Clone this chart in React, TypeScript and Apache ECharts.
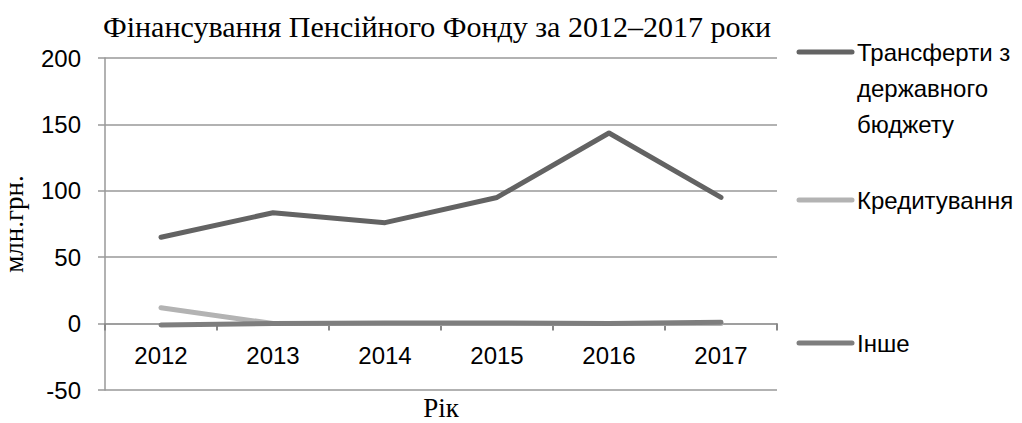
import React, { useEffect, useRef } from "react";
import * as echarts from "echarts";

const years = ["2012", "2013", "2014", "2015", "2016", "2017"];
const transfers = [65, 83.5, 76, 95, 143.5, 95];
const credit = [12, 0, 0, 0, 0, 0];
const other = [-1, 0, 0.5, 0.5, 0, 1];
const seriesNames = ["Трансферти з державного бюджету", "Кредитування", "Інше"];
const legendLabels = ["Трансферти з\nдержавного\nбюджету", "Кредитування", "Інше"];
const colors = ["#636363", "#b3b3b3", "#7e7e7e"];

const Y_MIN = -50;
const Y_MAX = 200;
const GRID_TOP = 58;
const GRID_BOTTOM = 33;
const CHART_H = 423;

export default function App() {
  const ref = useRef<HTMLDivElement>(null);
  useEffect(() => {
    const chart = echarts.init(ref.current!, null, { renderer: "svg" });
    const plotH = CHART_H - GRID_TOP - GRID_BOTTOM;
    const zeroOffset = -((0 - Y_MIN) / (Y_MAX - Y_MIN)) * plotH;
    const legendY = [52, 200, 343];
    const graphics: any[] = [];
    legendLabels.forEach((lab, i) => {
      graphics.push({
        type: "line",
        shape: { x1: 799, y1: legendY[i], x2: 852, y2: legendY[i] },
        style: { stroke: colors[i], lineWidth: 5, lineCap: "round" },
      });
      graphics.push({
        type: "text",
        x: 857,
        y: legendY[i] - 18,
        style: {
          text: lab,
          font: '24px "Liberation Sans", Arial, sans-serif',
          fill: "#000",
          lineHeight: 36,
          textVerticalAlign: "top",
        },
      });
    });
    chart.setOption({
      animation: false,
      backgroundColor: "#fff",
      title: {
        text: "Фінансування Пенсійного Фонду за 2012–2017 роки",
        left: 98,
        top: 6,
        textStyle: {
          fontFamily: '"Liberation Serif", "Times New Roman", serif',
          fontSize: 30,
          fontWeight: "normal",
          color: "#000",
        },
      },
      grid: {
        left: 105,
        right: 245,
        top: GRID_TOP,
        bottom: GRID_BOTTOM,
        containLabel: false,
        outerBoundsMode: "none",
      },
      xAxis: {
        type: "category",
        data: years,
        boundaryGap: true,
        offset: zeroOffset,
        name: "Рік",
        nameLocation: "middle",
        nameGap: 71,
        nameTextStyle: {
          fontFamily: '"Liberation Serif", serif',
          fontSize: 27,
          color: "#000",
        },
        axisLine: { show: true, onZero: false, lineStyle: { color: "#999", width: 1.5 } },
        axisTick: { show: true, length: 7, lineStyle: { color: "#888", width: 2 } },
        axisLabel: {
          fontFamily: '"Liberation Sans", Arial, sans-serif',
          fontSize: 24,
          color: "#000",
          margin: 20,
        },
      },
      yAxis: {
        type: "value",
        min: Y_MIN,
        max: Y_MAX,
        interval: 50,
        name: "млн.грн.",
        nameLocation: "middle",
        nameGap: 78,
        nameTextStyle: {
          fontFamily: '"Liberation Serif", serif',
          fontSize: 27,
          color: "#000",
        },
        axisLine: { show: true, lineStyle: { color: "#999", width: 1.5 } },
        axisTick: { show: true, length: 7, lineStyle: { color: "#999", width: 1.5 } },
        splitLine: { show: true, lineStyle: { color: "#999", width: 1.5 } },
        axisLabel: {
          fontFamily: '"Liberation Sans", Arial, sans-serif',
          fontSize: 24,
          color: "#000",
          margin: 24,
        },
      },
      series: [
        { name: seriesNames[0], type: "line", data: transfers },
        { name: seriesNames[1], type: "line", data: credit },
        { name: seriesNames[2], type: "line", data: other },
      ].map((s, i) => ({
        ...s,
        showSymbol: false,
        symbol: "none",
        lineStyle: { color: colors[i], width: 5, cap: "round", join: "round" },
        itemStyle: { color: colors[i] },
        z: 3 + i,
      })),
      graphic: graphics,
    });
    return () => chart.dispose();
  }, []);
  return (
    <div
      ref={ref}
      style={{ width: 1022, height: 423, position: "absolute", left: 0, top: 0 }}
    />
  );
}
